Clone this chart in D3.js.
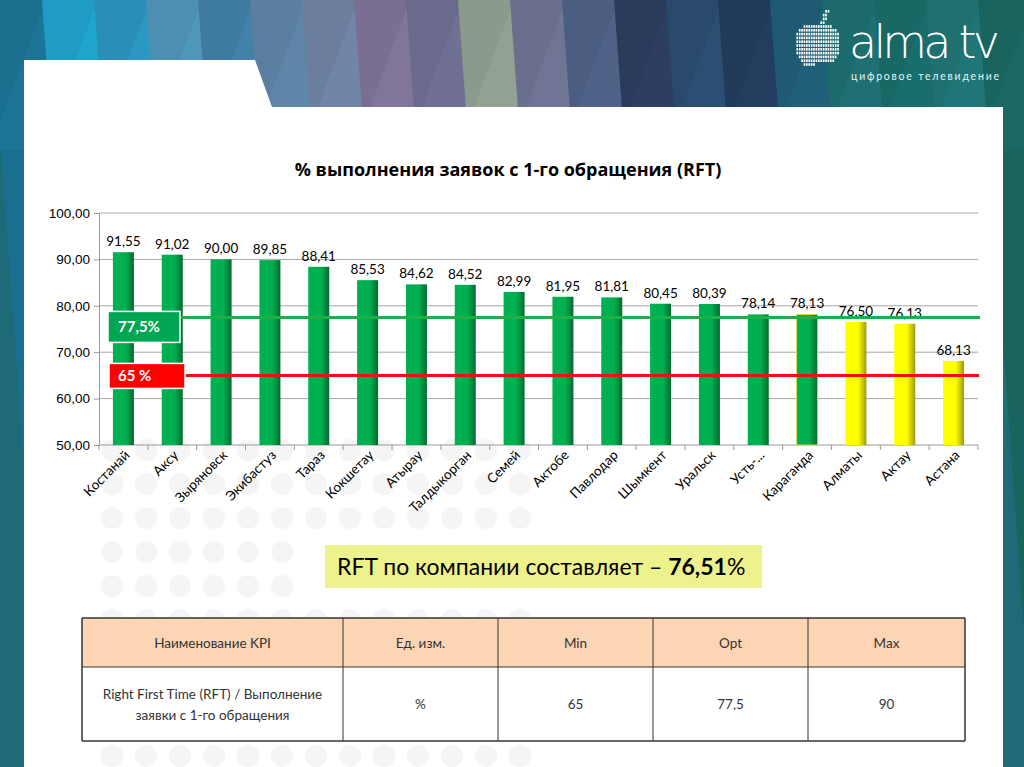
<!DOCTYPE html>
<html>
<head>
<meta charset="utf-8">
<script src="https://cdn.jsdelivr.net/npm/d3@7"></script>
<style>
  body { margin: 0; background: #fff; }
  svg { display: block; font-family: "Lato", "Open Sans", sans-serif; }
</style>
</head>
<body>
<svg id="chart" width="1024" height="767"></svg>
<script>
// chart values
const cities = ["Костанай", "Аксу", "Зыряновск", "Экибастуз", "Тараз", "Кокшетау", "Атырау", "Талдыкорган",
  "Семей", "Актобе", "Павлодар", "Шымкент", "Уральск", "Усть-...", "Караганда", "Алматы", "Актау", "Астана"];
const rft = [91.55, 91.02, 90.00, 89.85, 88.41, 85.53, 84.62, 84.52, 82.99, 81.95, 81.81, 80.45, 80.39, 78.14, 78.13, 76.50, 76.13, 68.13];
const yTicks = [50, 60, 70, 80, 90, 100];
const optLevel = 77.5;
const minLevel = 65;
const companyRft = "76,51";

// KPI table
const tableHeader = ["Наименование KPI", "Ед. изм.", "Min", "Opt", "Max"];
const tableRow = [["Right First Time (RFT) / Выполнение", "заявки с 1-го обращения"], ["%"], ["65"], ["77,5"], ["90"]];

// banner triangle colours, left to right
const bannerColors = ["#1b6f8e", "#1f9cc4", "#2a8fb8", "#4c8fb2", "#3f7aa0", "#5b7fa0", "#6b7e9e", "#7a6f92",
  "#6a6a8c", "#8b9a8a", "#6a6f8e", "#4b5d80", "#2b3b5c", "#2a4a6c", "#223a5a", "#1f5a72", "#1d6a6c", "#186866",
  "#1f7070", "#1a6460"];

const svg = d3.select("#chart");
const W = 1024, H = 767;
const fmt = v => d3.format(".2f")(v).replace(".", ",");

// ---- background banner ----
svg.append("rect").attr("width", W).attr("height", H).attr("fill", "#1f6a78");
const triW = 56;
bannerColors.forEach((c, i) => {
  const x = i * 52 - 10;
  svg.append("path")
    .attr("d", `M${x},0 L${x + triW * 2},0 L${x + triW},${H} Z`)
    .attr("fill", c);
  svg.append("path")
    .attr("d", `M${x + triW},0 L${x},${150} L${x + triW * 2},${150} Z`)
    .attr("fill", d3.color(c).brighter(0.25))
    .attr("opacity", 0.6);
});

// white panel
svg.append("path")
  .attr("d", "M24,60 L255,60 L272,107 L1003,107 L1003,767 L24,767 Z")
  .attr("fill", "#ffffff");

// faint dot pattern
const dotG = svg.append("g").attr("fill", "#f5f5f5");
d3.range(0, 10).forEach(r => {
  d3.range(0, 13).forEach(c => {
    const cy = 450 + r * 34, cx = 112 + c * 34;
    if (cy > 760) return;
    if (cy > 530 && cy < 600 && cx > 310) return;
    dotG.append("circle").attr("cx", cx).attr("cy", cy).attr("r", 11);
  });
});

// ---- logo ----
const logo = svg.append("g");
const appleRows = [
  [3, 2], [2, 2], [2, 2], [1, 2],
  [-6, 12], [-8, 16], [-9, 18], [-9, 18], [-9, 18], [-9, 18], [-9, 18], [-9, 18], [-8, 16], [-7, 14], [-6, 5]
];
appleRows.forEach((row, r) => {
  for (let k = 0; k < row[1]; k++) {
    logo.append("rect")
      .attr("x", 818 + (row[0] + k) * 2.4)
      .attr("y", 10 + r * 3.8)
      .attr("width", 1.7).attr("height", 2.6)
      .attr("fill", "#ffffff");
  }
});
logo.append("text").attr("x", 849).attr("y", 58)
  .attr("fill", "#ffffff").attr("font-size", 46).attr("font-family", "DejaVu Sans")
  .attr("font-weight", 200).attr("letter-spacing", -1).attr("textLength", 150)
  .text("alma tv");
logo.append("text").attr("x", 851).attr("y", 80)
  .attr("fill", "#e8f3f2").attr("font-size", 10.5).attr("textLength", 148)
  .text("цифровое телевидение");

// ---- chart ----
const x = d3.scaleBand().domain(cities).range([99, 978]).paddingInner(0.57).paddingOuter(0.285);
const y = d3.scaleLinear().domain([50, 100]).range([445, 213]);

svg.append("text").attr("x", 508).attr("y", 176).attr("text-anchor", "middle")
  .attr("font-family", "Open Sans").attr("font-size", 18).attr("font-weight", "bold").attr("fill", "#000")
  .text("% выполнения заявок с 1-го обращения (RFT)");

// gridlines
svg.append("g").selectAll("line").data(yTicks.slice(1)).join("line")
  .attr("x1", 99).attr("x2", 978)
  .attr("y1", d => y(d)).attr("y2", d => y(d))
  .attr("stroke", "#a6a6a6").attr("stroke-width", 1);

// y axis
const yAxis = svg.append("g").attr("transform", "translate(99,0)")
  .call(d3.axisLeft(y).tickValues(yTicks).tickSize(5).tickFormat(fmt));
yAxis.select(".domain").attr("stroke", "#999");
yAxis.selectAll(".tick line").attr("stroke", "#999");
yAxis.selectAll("text").attr("font-size", 13.5).attr("fill", "#000").attr("dx", -1);

// x axis with ticks between categories
svg.append("line").attr("x1", 99).attr("x2", 978).attr("y1", 445).attr("y2", 445)
  .attr("stroke", "#999");
svg.append("g").selectAll("line").data(d3.range(cities.length + 1)).join("line")
  .attr("x1", i => 99 + i * x.step()).attr("x2", i => 99 + i * x.step())
  .attr("y1", 445).attr("y2", 450).attr("stroke", "#999");
svg.append("g").selectAll("text").data(cities).join("text")
  .attr("transform", d => `translate(${x(d) + x.bandwidth() / 2 + 7},${456}) rotate(-45)`)
  .attr("text-anchor", "end").attr("font-size", 13.5).attr("fill", "#000")
  .text(d => d);

// bar gradients
const defs = svg.append("defs");
const makeGrad = (id, light, dark) => {
  const g = defs.append("linearGradient").attr("id", id).attr("x1", 0).attr("x2", 1);
  g.append("stop").attr("offset", "0%").attr("stop-color", light);
  g.append("stop").attr("offset", "60%").attr("stop-color", light);
  g.append("stop").attr("offset", "100%").attr("stop-color", dark);
};
makeGrad("gGreen", "#00b050", "#006b2e");
makeGrad("gYellow", "#ffff00", "#9a9a10");

const isYellow = i => i >= 15;
svg.append("g").selectAll("rect").data(rft).join("rect")
  .attr("x", (d, i) => x(cities[i]))
  .attr("y", d => y(d))
  .attr("width", x.bandwidth())
  .attr("height", d => y(50) - y(d))
  .attr("fill", (d, i) => isYellow(i) ? "url(#gYellow)" : "url(#gGreen)")
  .attr("stroke", (d, i) => i === 14 ? "#d8d84a" : "none")
  .attr("stroke-width", 1);

// value labels
svg.append("g").selectAll("text").data(rft).join("text")
  .attr("x", (d, i) => x(cities[i]) + x.bandwidth() / 2)
  .attr("y", d => y(d) - 6)
  .attr("text-anchor", "middle").attr("font-size", 13.5).attr("fill", "#000")
  .text(fmt);

// threshold lines
svg.append("line").attr("x1", 180).attr("x2", 980)
  .attr("y1", y(optLevel)).attr("y2", y(optLevel))
  .attr("stroke", "#1cb04a").attr("stroke-width", 3);
svg.append("line").attr("x1", 184).attr("x2", 979)
  .attr("y1", y(minLevel)).attr("y2", y(minLevel))
  .attr("stroke", "#ee1111").attr("stroke-width", 3);

// threshold boxes
svg.append("rect").attr("x", 108).attr("y", y(optLevel) - 6).attr("width", 72).attr("height", 31)
  .attr("fill", "#00a651").attr("stroke", "#ffffff").attr("stroke-width", 1.5);
svg.append("text").attr("x", 118).attr("y", y(optLevel) + 15)
  .attr("fill", "#ffffff").attr("font-size", 15).attr("font-weight", "bold")
  .text("77,5%");
svg.append("rect").attr("x", 109).attr("y", y(minLevel) - 12).attr("width", 76).attr("height", 25)
  .attr("fill", "#ff0000").attr("stroke", "#ffffff").attr("stroke-width", 1.5);
svg.append("text").attr("x", 118).attr("y", y(minLevel) + 6)
  .attr("fill", "#ffffff").attr("font-size", 15).attr("font-weight", "bold")
  .text("65 %");

// ---- company RFT note ----
svg.append("rect").attr("x", 325).attr("y", 545).attr("width", 437).attr("height", 43)
  .attr("fill", "#eef28c");
const note = svg.append("text").attr("x", 337).attr("y", 575)
  .attr("font-size", 23).attr("fill", "#000");
note.append("tspan").text("RFT по компании составляет – ");
note.append("tspan").attr("font-weight", "bold").text(companyRft);
note.append("tspan").text("%");

// ---- KPI table ----
const colX = [82, 343, 498, 653, 808, 965];
const rowY = [618, 667, 741];
const tbl = svg.append("g");
tbl.append("rect").attr("x", colX[0]).attr("y", rowY[0])
  .attr("width", colX[5] - colX[0]).attr("height", rowY[1] - rowY[0]).attr("fill", "#fcd5b4");
tbl.append("rect").attr("x", colX[0]).attr("y", rowY[1])
  .attr("width", colX[5] - colX[0]).attr("height", rowY[2] - rowY[1]).attr("fill", "#ffffff");
tbl.selectAll(".hl").data(rowY).join("line")
  .attr("x1", colX[0]).attr("x2", colX[5]).attr("y1", d => d).attr("y2", d => d)
  .attr("stroke", "#333").attr("stroke-width", (d, i) => i === 1 ? 1 : 1.5);
tbl.selectAll(".vl").data(colX).join("line")
  .attr("x1", d => d).attr("x2", d => d).attr("y1", rowY[0]).attr("y2", rowY[2])
  .attr("stroke", "#333").attr("stroke-width", (d, i) => (i === 0 || i === 5) ? 1.5 : 1);
tableHeader.forEach((t, i) => {
  tbl.append("text").attr("x", (colX[i] + colX[i + 1]) / 2).attr("y", 648)
    .attr("text-anchor", "middle").attr("font-size", 13.5).attr("fill", "#333").text(t);
});
tableRow.forEach((lines, i) => {
  const cx = (colX[i] + colX[i + 1]) / 2;
  lines.forEach((t, j) => {
    tbl.append("text").attr("x", cx)
      .attr("y", 709 + (j - (lines.length - 1) / 2) * 21)
      .attr("text-anchor", "middle").attr("font-size", 13.5).attr("fill", "#333").text(t);
  });
});
</script>
</body>
</html>
